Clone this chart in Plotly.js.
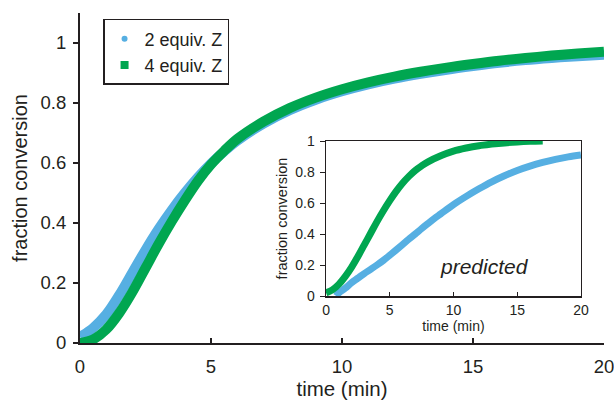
<!DOCTYPE html>
<html>
<head>
<meta charset="utf-8">
<script src="https://cdn.plot.ly/plotly-3.0.1.min.js"></script>
<style>html,body{margin:0;padding:0;background:#fff;}#chart{width:614px;height:405px;}</style>
</head>
<body>
<div id="chart"></div>
<script>
// Main chart data (time in min, fraction conversion)
const mainTime = [0, 0.5, 1, 1.5, 2, 2.5, 3, 3.5, 4, 4.5, 5, 5.5, 6, 7, 8, 9, 10, 11, 12, 13, 14, 15, 16, 17, 18, 19, 20];
const main2equiv = [0.02, 0.05, 0.095, 0.16, 0.235, 0.31, 0.38, 0.443, 0.50, 0.552, 0.598, 0.638, 0.674, 0.731, 0.776, 0.811, 0.839, 0.862, 0.881, 0.897, 0.911, 0.923, 0.934, 0.943, 0.95, 0.956, 0.961];
const main4equiv = [0.0, 0.012, 0.045, 0.10, 0.17, 0.25, 0.33, 0.405, 0.475, 0.54, 0.595, 0.64, 0.68, 0.738, 0.783, 0.818, 0.846, 0.869, 0.888, 0.904, 0.918, 0.93, 0.941, 0.95, 0.958, 0.965, 0.971];

// Inset ("predicted") data
const insetTime2 = [0.8, 1, 1.5, 2, 2.5, 3, 3.5, 4, 4.5, 5, 5.5, 6, 6.5, 7, 7.5, 8, 8.5, 9, 10, 11, 12, 13, 14, 15, 16, 17, 18, 19, 20];
const inset2equiv = [0, 0.02, 0.05, 0.085, 0.115, 0.145, 0.172, 0.20, 0.23, 0.263, 0.297, 0.332, 0.367, 0.40, 0.435, 0.468, 0.50, 0.53, 0.59, 0.643, 0.692, 0.737, 0.776, 0.81, 0.838, 0.862, 0.882, 0.898, 0.91];
const insetTime4 = [0, 0.5, 1, 1.5, 2, 2.5, 3, 3.5, 4, 4.5, 5, 5.5, 6, 6.5, 7, 7.5, 8, 9, 10, 11, 12, 13, 14, 15, 16, 17];
const inset4equiv = [0.02, 0.04, 0.075, 0.125, 0.185, 0.255, 0.33, 0.405, 0.48, 0.55, 0.615, 0.675, 0.728, 0.772, 0.81, 0.84, 0.866, 0.905, 0.935, 0.955, 0.97, 0.98, 0.988, 0.994, 0.998, 1.0];

const seriesNames = ['2 equiv. Z', '4 equiv. Z'];
const mainTicksX = [0, 5, 10, 15, 20];
const mainTicksY = [0, 0.2, 0.4, 0.6, 0.8, 1];
const mainTickTextY = ['0', '0.2', '0.4', '0.6', '0.8', '1'];

const BLUE = '#56afe2';
const GREEN = '#00a650';
const INK = '#231f20';
const FONT = 'Liberation Sans, Arial, sans-serif';

const traces = [
  {x: mainTime, y: main2equiv, mode: 'lines', line: {color: BLUE, width: 10, shape: 'spline'}, showlegend: false, xaxis: 'x', yaxis: 'y'},
  {x: mainTime, y: main4equiv, mode: 'lines', line: {color: GREEN, width: 10, shape: 'spline'}, showlegend: false, xaxis: 'x', yaxis: 'y'},
  {x: insetTime2, y: inset2equiv, mode: 'lines', line: {color: BLUE, width: 7, shape: 'spline'}, showlegend: false, xaxis: 'x2', yaxis: 'y2'},
  {x: insetTime4, y: inset4equiv, mode: 'lines', line: {color: GREEN, width: 7, shape: 'spline'}, showlegend: false, xaxis: 'x2', yaxis: 'y2'},
  {x: [null], y: [null], mode: 'markers', name: seriesNames[0], marker: {color: BLUE, size: 6, symbol: 'circle'}, xaxis: 'x', yaxis: 'y'},
  {x: [null], y: [null], mode: 'markers', name: seriesNames[1], marker: {color: GREEN, size: 8, symbol: 'square'}, xaxis: 'x', yaxis: 'y'}
];

const layout = {
  width: 614, height: 405,
  margin: {l: 80, r: 10, t: 13, b: 62},
  paper_bgcolor: '#fff', plot_bgcolor: 'rgba(0,0,0,0)',
  font: {family: FONT, color: INK, size: 18},
  showlegend: true,
  legend: {
    x: 0.044, y: 0.982, xanchor: 'left', yanchor: 'top',
    bordercolor: INK, borderwidth: 1.5, bgcolor: '#fff',
    itemwidth: 30,
    font: {family: FONT, size: 18, color: INK}
  },
  xaxis: {
    domain: [0, 1], range: [0, 20], tickvals: mainTicksX, ticks: 'inside', ticklen: 5, tickwidth: 1.5, tickcolor: INK,
    showline: true, linecolor: INK, linewidth: 2, showgrid: false, zeroline: false,
    ticklabelstandoff: 6, ticklabeloverflow: 'allow', tickfont: {size: 18.5},
    title: {text: 'time (min)', font: {size: 20.5}, standoff: 4}
  },
  yaxis: {
    domain: [0, 1], range: [0, 1.1], tickvals: mainTicksY, ticktext: mainTickTextY, ticks: 'outside', ticklen: 5, tickwidth: 1.5, tickcolor: INK,
    showline: true, linecolor: INK, linewidth: 2, showgrid: false, zeroline: false,
    ticklabelstandoff: 3, tickfont: {size: 18.5},
    title: {text: 'fraction conversion', font: {size: 20}, standoff: 8}
  },
  xaxis2: {
    domain: [0.4695, 0.956], range: [0, 20], anchor: 'y2', tickvals: mainTicksX, ticks: 'inside', ticklen: 4, tickwidth: 1, tickcolor: INK,
    showline: true, mirror: true, linecolor: INK, linewidth: 1.5, showgrid: false, zeroline: false,
    ticklabelstandoff: 1, tickfont: {size: 14},
    title: {text: 'time (min)', font: {size: 14}, standoff: 0}
  },
  yaxis2: {
    domain: [0.1424, 0.612], range: [0, 1], anchor: 'x2', tickvals: mainTicksY, ticktext: mainTickTextY, ticks: 'outside', ticklen: 5, tickwidth: 1, tickcolor: INK,
    showline: true, mirror: true, linecolor: INK, linewidth: 1.5, showgrid: false, zeroline: false,
    ticklabelstandoff: 2, tickfont: {size: 14},
    title: {text: 'fraction conversion', font: {size: 14.5}, standoff: 4}
  },
  annotations: [
    {xref: 'x2', yref: 'y2', x: 12.4, y: 0.19, text: '<i>predicted</i>', showarrow: false, font: {family: FONT, size: 21, color: INK}}
  ]
};

Plotly.newPlot('chart', traces, layout, {displayModeBar: false, staticPlot: true});
</script>
</body>
</html>
